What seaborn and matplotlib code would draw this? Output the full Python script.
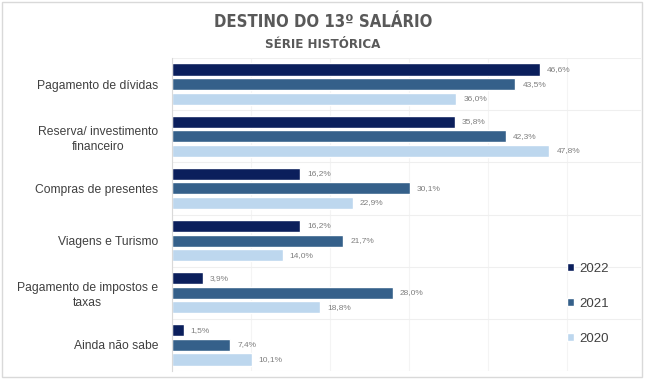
import pandas as pd
import numpy as np
import seaborn as sns
import matplotlib.pyplot as plt
from matplotlib.patches import Rectangle

categorias = ['Pagamento de dívidas', 'Reserva/ investimento\nfinanceiro', 'Compras de presentes',
              'Viagens e Turismo', 'Pagamento de impostos e\ntaxas', 'Ainda não sabe']
anos = ['2022', '2021', '2020']
v2022 = [46.6, 35.8, 16.2, 16.2, 3.9, 1.5]
v2021 = [43.5, 42.3, 30.1, 21.7, 28.0, 7.4]
v2020 = [36.0, 47.8, 22.9, 14.0, 18.8, 10.1]
cores = ['#0b1f5c', '#35608a', '#bdd7ee']

df = pd.DataFrame({'categoria': categorias * 3,
                   'ano': np.repeat(anos, len(categorias)),
                   'valor': v2022 + v2021 + v2020})

sns.set_style('white')
plt.rcParams['font.family'] = ['Liberation Sans', 'DejaVu Sans']

fig = plt.figure(figsize=(6.5, 3.9), dpi=100)
ax = fig.add_axes([172/650, 1 - 371/390, 469/650, 313/390])

sns.barplot(data=df, y='categoria', x='valor', hue='ano', hue_order=anos, order=categorias,
            palette=cores, orient='h', width=0.84, gap=0.17, ax=ax, saturation=1)

for cont in ax.containers:
    ax.bar_label(cont, labels=[f'{v:.1f}%'.replace('.', ',') for v in cont.datavalues],
                 padding=5, fontsize=6, color='#7f7f7f')

ax.set_xlim(0, 59.4)
ax.set_ylim(len(categorias) - 0.5, -0.5)
ax.set_xlabel('')
ax.set_ylabel('')
ax.set_xticks(np.arange(0, 60, 10))
ax.set_xticklabels([])
ax.tick_params(axis='x', length=0)
ax.set_yticks(np.arange(-0.5, len(categorias)), minor=True)
ax.tick_params(axis='y', which='major', length=0, pad=10, labelsize=8.7, labelcolor='#404040')
ax.tick_params(axis='y', which='minor', length=5, color='#d0d0d0', width=0.8)
for lab in ax.get_yticklabels():
    lab.set_multialignment('center')
    lab.set_linespacing(1.35)
ax.grid(True, axis='x', color='#f4f4f4', lw=0.8)
ax.grid(True, axis='y', which='minor', color='#efefef', lw=0.8)
ax.set_axisbelow(True)
for s in ['top', 'right', 'bottom']:
    ax.spines[s].set_visible(False)
ax.spines['left'].set_color('#d9d9d9')
ax.spines['left'].set_linewidth(0.8)

leg = ax.legend(loc='center left', bbox_to_anchor=(383/469, 0.215), frameon=False,
                fontsize=9.5, labelspacing=1.75, handlelength=0.55, handleheight=0.55,
                handletextpad=0.4, labelcolor='#404040')

fig.text(0.497, 1 - 22/390, 'DESTINO DO 13º SALÁRIO', ha='center', va='center',
         fontsize=12, fontweight='bold', color='#595959', family='DejaVu Sans',
         fontstretch='condensed')
fig.text(0.497, 1 - 44/390, 'SÉRIE HISTÓRICA', ha='center', va='center',
         fontsize=9.5, fontweight='bold', color='#595959', family='DejaVu Sans',
         fontstretch='condensed')

fig.patches.append(Rectangle((2/650, 1 - 377/390), 640/650, 375/390, transform=fig.transFigure,
                             fill=False, edgecolor='#d9d9d9', lw=1))

fig.savefig('out.png', dpi=100)
